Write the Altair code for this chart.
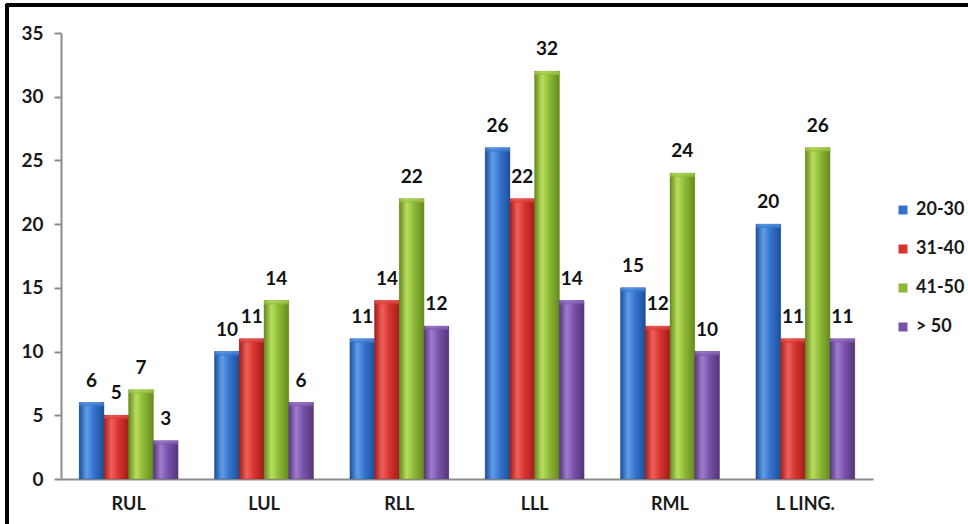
import altair as alt
import pandas as pd

# Lung lobe involvement by age group
regions = ["RUL", "LUL", "RLL", "LLL", "RML", "L LING."]
age_groups = ["20-30", "31-40", "41-50", "> 50"]
v_20_30 = [6, 10, 11, 26, 15, 20]
v_31_40 = [5, 11, 14, 22, 12, 11]
v_41_50 = [7, 14, 22, 32, 24, 26]
v_over_50 = [3, 6, 12, 14, 10, 11]
y_ticks = [0, 5, 10, 15, 20, 25, 30, 35]

series = [v_20_30, v_31_40, v_41_50, v_over_50]
rows = []
for grp, vals in zip(age_groups, series):
    for reg, v in zip(regions, vals):
        rows.append({"region": reg, "group": grp, "value": v})
df = pd.DataFrame(rows)

# dark edge, highlight, body colour for each series
palette = {
    "20-30": ("#1d4f98", "#5f9de9", "#3473cc"),
    "31-40": ("#a11e1c", "#f0605a", "#d6332f"),
    "41-50": ("#66891f", "#b9de5e", "#8cb935"),
    "> 50": ("#533779", "#a07ccd", "#7751a8"),
}
solid = [palette[g][2] for g in age_groups]

FONT = "Lato"
W, H = 812, 446

x_enc = alt.X(
    "region:N",
    sort=regions,
    scale=alt.Scale(paddingInner=0.27, paddingOuter=0.135),
    axis=alt.Axis(
        title=None,
        labelAngle=0,
        ticks=False,
        domainColor="#8c8c8c",
        domainWidth=2,
        labelFont=FONT,
        labelFontWeight="bold",
        labelFontSize=18,
        labelColor="#1a1a1a",
        labelPadding=16,
    ),
)
xo_enc = alt.XOffset(
    "group:N",
    sort=age_groups,
    scale=alt.Scale(domain=age_groups, paddingInner=0, paddingOuter=0),
)
y_enc = alt.Y(
    "value:Q",
    scale=alt.Scale(domain=[0, 35], nice=False),
    axis=alt.Axis(
        title=None,
        values=y_ticks,
        grid=False,
        domainColor="#8c8c8c",
        domainWidth=2,
        tickColor="#8c8c8c",
        tickWidth=2,
        tickSize=7,
        labelFont=FONT,
        labelFontWeight="bold",
        labelFontSize=19,
        labelColor="#1a1a1a",
        labelPadding=11,
    ),
)

base = alt.Chart(df).encode(x=x_enc, xOffset=xo_enc, y=y_enc)

# solid bars carry the legend
legend_bars = base.mark_bar().encode(
    color=alt.Color(
        "group:N",
        sort=age_groups,
        scale=alt.Scale(domain=age_groups, range=solid),
        legend=alt.Legend(
            title=None,
            orient="none",
            legendX=833,
            legendY=168,
            symbolType="square",
            symbolSize=81,
            symbolStrokeWidth=0,
            labelFont=FONT,
            labelFontWeight="bold",
            labelFontSize=18,
            labelColor="#1a1a1a",
            labelOffset=4,
            rowPadding=21,
        ),
    )
)

# shaded cylinder-style bars on top
shaded = []
for g in age_groups:
    dark, light, body = palette[g]
    grad = alt.Gradient(
        gradient="linear",
        x1=0, x2=1, y1=0, y2=0,
        stops=[
            alt.GradientStop(color=dark, offset=0),
            alt.GradientStop(color=light, offset=0.3),
            alt.GradientStop(color=body, offset=0.6),
            alt.GradientStop(color=dark, offset=1),
        ],
    )
    cap = alt.Gradient(
        gradient="linear",
        x1=0, x2=0, y1=0, y2=1,
        stops=[
            alt.GradientStop(color=light, offset=0),
            alt.GradientStop(color=body, offset=1),
        ],
    )
    layer = base.transform_filter(alt.datum.group == g)
    shaded.append(
        layer.mark_bar(fill=grad, stroke=dark, strokeWidth=0.6, strokeOpacity=0.6)
    )
    # lighter bevel along the top of each bar
    shaded.append(
        layer.transform_calculate(cap_lo="datum.value - 0.3")
        .mark_bar(fill=cap, opacity=0.75, cornerRadiusTopLeft=4, cornerRadiusTopRight=4)
        .encode(y2="cap_lo:Q")
    )

labels = base.mark_text(
    font=FONT,
    fontWeight="bold",
    fontSize=19,
    color="#111111",
    baseline="middle",
    dy=-22,
).encode(text="value:Q")

# outer frame lines (top and left)
frame_top = alt.Chart(df).mark_rule(color="#000000", strokeWidth=3).encode(
    x=alt.value(-55), x2=alt.value(W + 120), y=alt.value(-28)
)
frame_left = alt.Chart(df).mark_rule(color="#000000", strokeWidth=3).encode(
    x=alt.value(-54), y=alt.value(-29), y2=alt.value(H + 60)
)

chart = (
    alt.layer(legend_bars, *shaded, labels, frame_top, frame_left)
    .properties(
        width=W,
        height=H,
        autosize=alt.AutoSizeParams(type="none"),
        padding={"left": 61, "top": 33, "right": 95, "bottom": 45},
        background="white",
    )
    .configure_view(stroke=None)
)

chart.save("out.html", embed_options={"renderer": "svg", "actions": False})
